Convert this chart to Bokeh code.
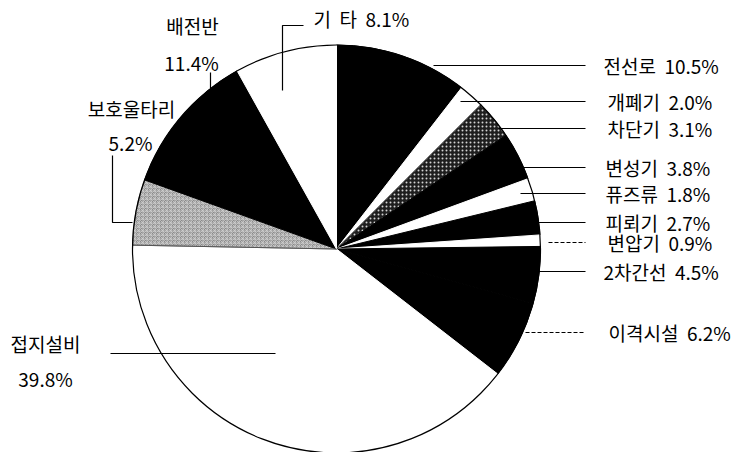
import numpy as np
from bokeh.plotting import figure
from bokeh.models import Range1d, ColumnDataSource
from bokeh.core.properties import value
from bokeh.embed import file_html
from bokeh.resources import INLINE

# ---- data (clockwise from 12 o'clock) ----
categories = ["전선로", "개폐기", "차단기", "변성기", "퓨즈류", "피뢰기", "변압기",
              "2차간선", "이격시설", "접지설비", "보호울타리", "배전반", "기\u00a0\u00a0타"]
percent = [10.5, 2.0, 3.1, 3.8, 1.8, 2.7, 0.9, 4.5, 6.2, 39.8, 5.2, 11.4, 8.1]

# ---- styles ----
fills = ["black", "white", "#1e1e1e", "black", "white", "black", "white",
         "black", "black", "white", "#8a8a8a", "black", "white"]
hatches = [" ", " ", "dot", " ", " ", " ", " ", " ", " ", " ", "criss_cross", " ", " "]
hatch_cols = ["white", "white", "white", "white", "white", "white", "white",
              "white", "white", "white", "#cfcfcf", "white", "white"]

W, H = 743, 452
FONT = "Noto Sans CJK KR"
FS = "19px"
SP = "\u00a0\u00a0"

def Y(y_img):
    return H - y_img

p = figure(width=W, height=H, output_backend="svg", toolbar_location=None,
           x_range=Range1d(0, W), y_range=Range1d(0, H), min_border=0)
p.axis.visible = False
p.grid.visible = False
p.outline_line_color = None
p.background_fill_color = "white"

cx, cy, r = 336, Y(248.5), 204
vals = np.array(percent) / 100.0
cum = np.concatenate([[0], np.cumsum(vals)])
start = np.pi / 2 - 2 * np.pi * cum[1:]
end = np.pi / 2 - 2 * np.pi * cum[:-1]

src = ColumnDataSource(dict(start=start, end=end, fill=fills, hatch=hatches, hc=hatch_cols))
p.wedge(x=cx, y=cy, radius=r, start_angle="start", end_angle="end", source=src,
        fill_color="fill", line_color="fill", line_width=1.0, hatch_pattern="hatch",
        hatch_color="hc", hatch_scale=4, hatch_weight=1, hatch_alpha=0.8)
# boundary between 접지설비 and 보호울타리
b = start[9]
p.segment(x0=cx, y0=cy, x1=cx + r * np.cos(b), y1=cy + r * np.sin(b), line_color="#555", line_width=1)
p.circle(x=cx, y=cy, radius=r, fill_color=None, line_color="black", line_width=1.2)

# ---- labels (layout) ----
right_idx = [0, 1, 2, 3, 4, 5, 6, 7, 8]
right_y = [65, 101, 128, 167, 193, 222, 242, 271, 332]
right_x0 = [433, 460, 498, 523, 520, 537, 548, 535, 525]
right_dash = ["solid"] * 6 + ["4 2", "solid", "4 2"]
right_tx = [603, 607, 607, 605, 605, 605, 607, 603, 608]
for i, yy, x0, d, tx in zip(right_idx, right_y, right_x0, right_dash, right_tx):
    p.line([x0, 585], [Y(yy), Y(yy)], line_color="black", line_width=1.2, line_dash=d)
    p.text(x=[tx], y=[Y(yy)], text=[f"{categories[i]}{SP}{percent[i]:.1f}%"],
           text_font=value(FONT), text_font_size=FS, text_baseline="middle",
           text_align="left", text_color="black")

# 접지설비
p.line([110, 275], [Y(353), Y(353)], line_color="black", line_width=1.2)
p.text(x=[45, 45], y=[Y(343), Y(378)], text=[categories[9], f"{percent[9]:.1f}%"],
       text_font=value(FONT), text_font_size=FS, text_baseline="middle", text_align="center")
# 보호울타리
p.line([112, 112, 132], [Y(155), Y(222), Y(222)], line_color="black", line_width=1.2)
p.text(x=[131, 130], y=[Y(108), Y(142)], text=[categories[10], f"{percent[10]:.1f}%"],
       text_font=value(FONT), text_font_size=FS, text_baseline="middle", text_align="center")
# 배전반
p.line([210, 210], [Y(72), Y(88)], line_color="black", line_width=1.2)
p.text(x=[192, 191], y=[Y(25), Y(62)], text=[categories[11], f"{percent[11]:.1f}%"],
       text_font=value(FONT), text_font_size=FS, text_baseline="middle", text_align="center")
# 기 타
p.line([303, 282, 282], [Y(25), Y(25), Y(90)], line_color="black", line_width=1.2)
p.text(x=[313], y=[Y(18)], text=[f"{categories[12]}{SP}{percent[12]:.1f}%"],
       text_font=value(FONT), text_font_size=FS, text_baseline="middle", text_align="left")

open("out.html", "w").write(file_html(p, INLINE))
